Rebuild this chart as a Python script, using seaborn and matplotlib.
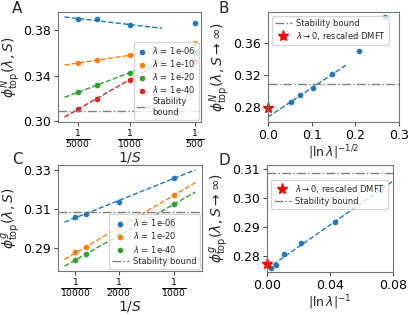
import matplotlib
matplotlib.use("Agg")
import matplotlib.pyplot as plt
import seaborn as sns
import numpy as np

# ---- data ----
# panel A: phi^N_top vs 1/S
A_S = [5000, 2000, 1000, 500]
A_lams = ["1e-06", "1e-10", "1e-20", "1e-40"]
A_y_1e06 = [0.3898, 0.3898, 0.3848, 0.3862]
A_y_1e10 = [0.3513, 0.3537, 0.3581, 0.3691]
A_y_1e20 = [0.3254, 0.3317, 0.3427, 0.3608]
A_y_1e40 = [0.3106, 0.3195, 0.3367, 0.3528]
A_tick_S = [5000, 1000, 500]

# panel B: extrapolated phi^N_top vs |ln lambda|^(-1/2)
B_x = [0.052, 0.074, 0.104, 0.147, 0.208, 0.269]
B_y = [0.2866, 0.2956, 0.3042, 0.3214, 0.3493, 0.3919]
B_dmft = 0.2788

# panel C: phi^g_top vs 1/S
C_S = [10000, 5000, 2000, 1000]
C_lams = ["1e-06", "1e-20", "1e-40"]
C_y_1e06 = [0.3061, 0.3078, 0.3139, 0.3260]
C_y_1e20 = [0.2880, 0.2905, 0.3009, 0.3171]
C_y_1e40 = [0.2843, 0.2870, 0.2968, 0.3125]
C_tick_S = [10000, 2000, 1000]

# panel D: extrapolated phi^g_top vs |ln lambda|^(-1)
D_x = [0.0027, 0.0054, 0.0109, 0.0217, 0.0434, 0.0724]
D_y = [0.2760, 0.2770, 0.2807, 0.2845, 0.2918, 0.3029]
D_dmft = 0.2771

stability_bound = 0.3087

sns.set_style("ticks")
plt.rcParams['font.family'] = ['DejaVu Sans']
plt.rcParams['axes.edgecolor'] = '0.45'
plt.rcParams['xtick.color'] = '0.3'
plt.rcParams['ytick.color'] = '0.3'
plt.rcParams['xtick.labelcolor'] = 'black'
plt.rcParams['ytick.labelcolor'] = 'black'
plt.rcParams['axes.linewidth'] = 0.8
plt.rcParams['legend.fontsize'] = 6
plt.rcParams['legend.handletextpad'] = 0.5
plt.rcParams['legend.borderpad'] = 0.35
plt.rcParams['legend.labelspacing'] = 0.25

colors = sns.color_palette("tab10")
W, H = 415, 315
fig = plt.figure(figsize=(W / 100, H / 100), dpi=100)


def box(l, t, r, b):
    return [l / W, 1 - b / H, (r - l) / W, (b - t) / H]


axA = fig.add_axes(box(58, 12, 201, 122))
axB = fig.add_axes(box(268, 12, 399, 122))
axC = fig.add_axes(box(58, 165, 202, 271))
axD = fig.add_axes(box(267, 165, 393, 272))


def fit_line(ax, x, y, x_end, color, n=None):
    x = np.asarray(x)
    y = np.asarray(y)
    if n is not None:
        x, y = x[:n], y[:n]
    p = np.polyfit(x, y, 1)
    xs = np.array([0.0, x_end])
    ax.plot(xs, np.polyval(p, xs), '--', color=color, lw=1)


# ---- A ----
xA = 1 / np.array(A_S)
for i, (lam, ys) in enumerate(zip(A_lams, [A_y_1e06, A_y_1e10, A_y_1e20, A_y_1e40])):
    sns.scatterplot(x=xA, y=ys, color=colors[i], s=14, edgecolor=None,
                    label=r"$\lambda$ = " + lam, ax=axA)
    fit_line(axA, xA, ys, 0.0015, colors[i], n=3)
axA.axhline(stability_bound, color='gray', ls='-.', lw=1, label="Stability\nbound")
axA.set_xticks(1 / np.array(A_tick_S))
axA.set_xticklabels([r"$\frac{1}{%d}$" % s for s in A_tick_S], fontsize=9.5)
axA.set_yticks([0.30, 0.34, 0.38])
axA.set_xlabel(r"$1/S$", fontsize=10, labelpad=-1)
axA.set_ylabel(r"$\phi^N_{\rm top}(\lambda, S)$", fontsize=10, labelpad=0)
axA.legend(loc='lower right', borderaxespad=0.3, handlelength=1.4)

# ---- B ----
sns.scatterplot(x=B_x, y=B_y, color=colors[0], s=14, edgecolor=None, ax=axB)
fit_line(axB, B_x, B_y, 0.18, colors[0], n=4)
axB.axhline(stability_bound, color='gray', ls='-.', lw=1, label="Stability bound")
axB.plot([0], [B_dmft], '*', color='red', ms=8, clip_on=False,
         label=r"$\lambda\to0$, rescaled DMFT")
axB.set_xlim(0, 0.3)
axB.set_xticks([0.0, 0.1, 0.2, 0.3])
axB.set_yticks([0.28, 0.32, 0.36])
axB.set_xlabel(r"$|\ln\lambda|^{-1/2}$", fontsize=9, labelpad=1)
axB.set_ylabel(r"$\phi^N_{\rm top}(\lambda, S\to\infty)$", fontsize=10, labelpad=1)
axB.legend(loc='upper left')

# ---- C ----
xC = 1 / np.array(C_S)
for i, (lam, ys) in enumerate(zip(C_lams, [C_y_1e06, C_y_1e20, C_y_1e40])):
    sns.scatterplot(x=xC, y=ys, color=colors[i], s=14, edgecolor=None,
                    label=r"$\lambda$ = " + lam, ax=axC)
    fit_line(axC, xC, ys, 0.0012, colors[i])
axC.axhline(stability_bound, color='gray', ls='-.', lw=1, label="Stability bound")
axC.set_xticks(1 / np.array(C_tick_S))
axC.set_xticklabels([r"$\frac{1}{%d}$" % s for s in C_tick_S], fontsize=9.5)
axC.set_yticks([0.29, 0.31, 0.33])
axC.set_xlabel(r"$1/S$", fontsize=10, labelpad=-1)
axC.set_ylabel(r"$\phi^g_{\rm top}(\lambda, S)$", fontsize=10, labelpad=0)
axC.legend(loc='lower right', borderaxespad=0.3)

# ---- D ----
sns.scatterplot(x=D_x, y=D_y, color=colors[0], s=14, edgecolor=None, ax=axD)
fit_line(axD, D_x, D_y, 0.08, colors[0])
axD.plot([0], [D_dmft], '*', color='red', ms=8, clip_on=False,
         label=r"$\lambda\to0$, rescaled DMFT")
axD.axhline(stability_bound, color='gray', ls='-.', lw=1, label="Stability bound")
axD.set_xlim(0, 0.08)
axD.set_ylim(0.2745, 0.3115)
axD.set_xticks([0.0, 0.04, 0.08])
axD.set_yticks([0.28, 0.29, 0.30, 0.31])
axD.set_xlabel(r"$|\ln\lambda|^{-1}$", fontsize=9, labelpad=1)
axD.set_ylabel(r"$\phi^g_{\rm top}(\lambda, S\to\infty)$", fontsize=10, labelpad=1)
axD.legend(loc='upper left', bbox_to_anchor=(0, 0.9))

for ax in [axA, axB, axC, axD]:
    ax.tick_params(axis='y', labelsize=9)
    ax.tick_params(length=3, width=0.8, pad=2)
    for s in ax.spines.values():
        s.set_visible(True)
for ax in [axB, axD]:
    ax.tick_params(axis='x', labelsize=9)

for lab, x, y in [("A", 12, 1), ("B", 218, 1), ("C", 12, 152), ("D", 218, 153)]:
    fig.text(x / W, 1 - y / H, lab, fontsize=11, va='top', ha='left')

fig.savefig("out.png", dpi=100)
